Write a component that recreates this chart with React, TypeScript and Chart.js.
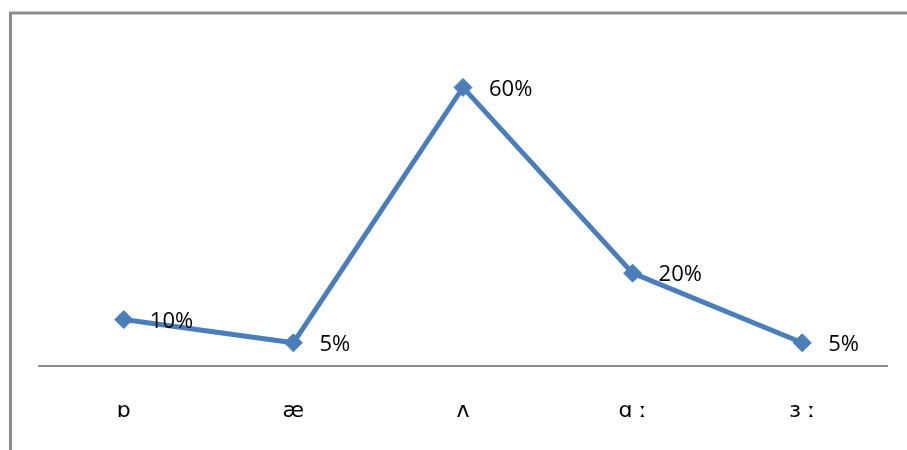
import React, { useEffect, useRef } from "react";
import { Chart, registerables } from "chart.js";

Chart.register(...registerables);

const categories = ["ɒ", "æ", "ʌ", "ɑ ː", "ɜ ː"];
const values = [10, 5, 60, 20, 5];
const valueLabels = ["10%", "5%", "60%", "20%", "5%"];

const LINE_BLUE = "#4a7ebb";

const framePlugin = {
  id: "frame",
  beforeDraw(chart: any) {
    const ctx = chart.ctx;
    ctx.save();
    ctx.strokeStyle = "#8c8c8c";
    ctx.lineWidth = 3;
    ctx.beginPath();
    ctx.moveTo(10.5, 460);
    ctx.lineTo(10.5, 13);
    ctx.lineTo(920, 13);
    ctx.stroke();
    ctx.restore();
  },
};

const labelPlugin = {
  id: "valueLabels",
  afterDatasetsDraw(chart: any) {
    const ctx = chart.ctx;
    const meta = chart.getDatasetMeta(0);
    ctx.save();
    ctx.fillStyle = "#000000";
    ctx.font = "22px 'Open Sans'";
    ctx.textAlign = "left";
    ctx.textBaseline = "middle";
    meta.data.forEach((pt: any, i: number) => {
      ctx.fillText(valueLabels[i], pt.x + 26, pt.y + 2);
    });
    ctx.restore();
  },
};

export default function App() {
  const ref = useRef<HTMLCanvasElement>(null);
  useEffect(() => {
    if (!ref.current) return;
    const chart = new Chart(ref.current, {
      type: "line",
      data: {
        labels: categories,
        datasets: [
          {
            data: values,
            borderColor: LINE_BLUE,
            backgroundColor: LINE_BLUE,
            borderWidth: 5,
            pointStyle: "rectRot",
            pointRadius: 9,
            pointBorderWidth: 1,
            pointBackgroundColor: LINE_BLUE,
            pointBorderColor: LINE_BLUE,
            tension: 0,
            clip: false as any,
          },
        ],
      },
      options: {
        animation: false,
        responsive: false,
        maintainAspectRatio: false,
        layout: { padding: { left: 39, right: 20, top: 41, bottom: 0 } },
        plugins: { legend: { display: false }, tooltip: { enabled: false } },
        scales: {
          x: {
            offset: true,
            grid: { display: false, drawTicks: false },
            border: { display: true, color: "#8c8c8c", width: 2 },
            ticks: {
              padding: 32,
              color: "#000000",
              font: { family: "'DejaVu Sans'", size: 22 },
              maxRotation: 0,
            },
            afterFit(scale: any) {
              scale.height = 84;
            },
          },
          y: {
            display: false,
            min: 0,
            max: 70,
          },
        },
      },
      plugins: [framePlugin, labelPlugin],
    });
    return () => chart.destroy();
  }, []);
  return (
    <div style={{ position: "fixed", left: 0, top: 0, width: 907, height: 450, background: "#fff" }}>
      <canvas ref={ref} width={907} height={450} style={{ display: "block" }} />
    </div>
  );
}
